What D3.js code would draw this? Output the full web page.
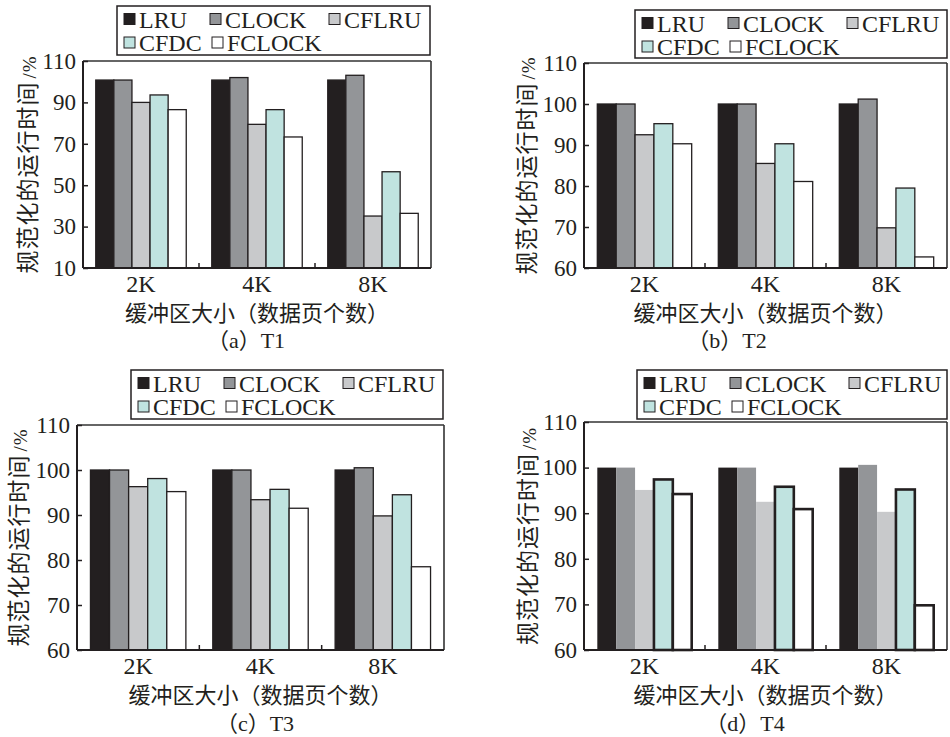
<!DOCTYPE html>
<html>
<head>
<meta charset="utf-8">
<script src="https://cdn.jsdelivr.net/npm/d3@7"></script>
<style>
  body { margin: 0; background: #fff; }
  text { fill: #231f20; }
</style>
</head>
<body>
<div id="chart"></div>
<script>
// du lieu
var groups = ["2K", "4K", "8K"];
var seriesNames = ["LRU", "CLOCK", "CFLRU", "CFDC", "FCLOCK"];
var seriesColors = ["#231f20", "#939598", "#c8c9cb", "#c0e3e0", "#ffffff"];

var ticksT1 = [10, 30, 50, 70, 90, 110];
var ticksOther = [60, 70, 80, 90, 100, 110];

// moi dong = mot series, moi cot = 2K, 4K, 8K
var valuesT1 = [
    [100.8, 100.8, 100.8],
    [100.8, 102.0, 103.1],
    [90.0, 79.4, 35.1],
    [93.6, 86.5, 56.5],
    [86.5, 73.3, 36.4]
];
var valuesT2 = [
    [100, 100, 100],
    [100, 100, 101.2],
    [92.5, 85.5, 69.8],
    [95.2, 90.3, 79.5],
    [90.3, 81.1, 62.7]
];
var valuesT3 = [
    [100, 100, 100],
    [100, 100, 100.5],
    [96.3, 93.4, 89.8],
    [98.1, 95.7, 94.5],
    [95.2, 91.5, 78.5]
];
var valuesT4 = [
    [100, 100, 100],
    [100, 100, 100.6],
    [95.1, 92.5, 90.3],
    [97.4, 95.8, 95.2],
    [94.2, 90.9, 69.8]
];

var yTitle = "规范化的运行时间";
var xTitle = "缓冲区大小（数据页个数）";

var serif = "'Liberation Serif', 'DejaVu Serif', serif";
var cjk = "'Noto Sans CJK SC', sans-serif";

var svg = d3.select("#chart")
    .append("svg")
    .attr("width", 950)
    .attr("height", 737);

function drawPanel(p) {
    var x0 = p.plot[0], x1 = p.plot[1], y0 = p.plot[2], y1 = p.plot[3];
    var g = svg.append("g");

    var y = d3.scaleLinear()
        .domain([p.ticks[0], p.ticks[p.ticks.length - 1]])
        .range([y1, y0]);

    var xGroup = d3.scaleBand()
        .domain(groups)
        .range([x0, x1])
        .paddingInner(0.22)
        .paddingOuter(0.11);

    var xSeries = d3.scaleBand()
        .domain(seriesNames)
        .range([0, xGroup.bandwidth()]);

    // ve cac cot
    var grp = g.selectAll(".grp")
        .data(groups)
        .enter()
        .append("g")
        .attr("transform", function (d) { return "translate(" + xGroup(d) + ",0)"; });

    grp.selectAll("rect")
        .data(function (d, gi) {
            return seriesNames.map(function (s, si) {
                return { s: s, si: si, v: p.values[si][gi] };
            });
        })
        .enter()
        .append("rect")
        .attr("x", function (d) { return xSeries(d.s); })
        .attr("width", xSeries.bandwidth())
        .attr("y", function (d) { return y(d.v); })
        .attr("height", function (d) { return y(p.ticks[0]) - y(d.v); })
        .attr("fill", function (d) { return seriesColors[d.si]; })
        .attr("stroke", function (d) {
            if (p.thick && d.si < 3) return "none";
            return "#231f20";
        })
        .attr("stroke-width", function (d) { return p.thick ? 2.6 : 1.3; });

    // khung
    g.append("line").attr("x1", x0).attr("x2", x1).attr("y1", y0).attr("y2", y0)
        .attr("stroke", "#333").attr("stroke-width", 1.6);
    g.append("line").attr("x1", x1).attr("x2", x1).attr("y1", y0).attr("y2", y1)
        .attr("stroke", "#333").attr("stroke-width", 1.6);
    g.append("line").attr("x1", x0).attr("x2", x1).attr("y1", y1).attr("y2", y1)
        .attr("stroke", "#231f20").attr("stroke-width", 2);
    g.append("line").attr("x1", x0).attr("x2", x0).attr("y1", y0).attr("y2", y1)
        .attr("stroke", "#231f20").attr("stroke-width", 2);

    // truc y
    var yAxis = g.append("g")
        .attr("transform", "translate(" + x0 + ",0)")
        .call(d3.axisLeft(y).tickValues(p.ticks).tickSize(-5).tickPadding(7));
    yAxis.select(".domain").remove();
    yAxis.selectAll(".tick line").attr("stroke", "#231f20").attr("stroke-width", 1.5);
    yAxis.selectAll(".tick text")
        .style("font-family", serif)
        .style("font-size", "23px")
        .attr("fill", "#231f20");

    // vach chia giua cac nhom
    g.selectAll(".sep")
        .data(groups.slice(1))
        .enter()
        .append("line")
        .attr("x1", function (d) { return xGroup(d) - xGroup.step() * 0.11; })
        .attr("x2", function (d) { return xGroup(d) - xGroup.step() * 0.11; })
        .attr("y1", y1)
        .attr("y2", y1 - 5)
        .attr("stroke", "#231f20")
        .attr("stroke-width", 1.5);

    // nhan truc x
    g.selectAll(".xl")
        .data(groups)
        .enter()
        .append("text")
        .attr("x", function (d) { return xGroup(d) + xGroup.bandwidth() / 2; })
        .attr("y", y1 + 24)
        .attr("text-anchor", "middle")
        .style("font-family", serif)
        .style("font-size", "24px")
        .text(function (d) { return d; });

    g.append("text")
        .attr("x", (x0 + x1) / 2)
        .attr("y", y1 + 52.5)
        .attr("text-anchor", "middle")
        .style("font-family", cjk)
        .style("font-size", "22px")
        .text(xTitle);

    // tieu de phu
    var cap = g.append("text")
        .attr("x", p.capX)
        .attr("y", y1 + p.capDy)
        .attr("text-anchor", "middle")
        .style("font-family", serif)
        .style("font-size", "22px");
    cap.append("tspan").style("font-family", cjk).text("（");
    cap.append("tspan").text(p.letter);
    cap.append("tspan").style("font-family", cjk).text("）");
    cap.append("tspan").text(p.name);

    // tieu de truc y
    var yt = g.append("text")
        .attr("transform", "translate(" + p.yTitleX + "," + (y0 + y1) / 2 + ") rotate(-90)")
        .attr("text-anchor", "middle")
        .attr("dy", "0.35em")
        .style("font-family", cjk)
        .style("font-size", "23px")
        .style("letter-spacing", "1px");
    yt.append("tspan").text(yTitle);
    yt.append("tspan").style("font-family", serif).style("font-size", "19px").attr("dx", 3).text("/%");

    // chu thich
    var lx = p.legend[0], lx2 = p.legend[1], ly = p.legend[2], ly2 = p.legend[3];
    g.append("rect")
        .attr("x", lx)
        .attr("y", ly)
        .attr("width", lx2 - lx)
        .attr("height", ly2 - ly)
        .attr("fill", "#fff")
        .attr("stroke", "#231f20")
        .attr("stroke-width", 1.5);

    var legendPos = [[7, 13], [93, 13], [212, 13], [7, 36.5], [95, 36.5]];
    var legend = g.selectAll(".legend")
        .data(seriesNames)
        .enter()
        .append("g")
        .attr("transform", function (d, i) {
            return "translate(" + (lx + legendPos[i][0]) + "," + (ly + legendPos[i][1]) + ")";
        });

    legend.append("rect")
        .attr("x", 0)
        .attr("y", -5.5)
        .attr("width", 11)
        .attr("height", 11)
        .attr("fill", function (d, i) { return seriesColors[i]; })
        .attr("stroke", "#231f20")
        .attr("stroke-width", 1);

    legend.append("text")
        .attr("x", 15)
        .attr("y", 8.5)
        .style("font-family", serif)
        .style("font-size", "24px")
        .text(function (d) { return d; });
}

drawPanel({ plot: [83, 431, 61, 268], ticks: ticksT1, values: valuesT1, legend: [117, 430, 6, 55],
    yTitleX: 28, capX: 246, capDy: 80, letter: "a", name: "T1" });
drawPanel({ plot: [584, 947, 63, 268], ticks: ticksOther, values: valuesT2, legend: [635, 947, 10, 58],
    yTitleX: 527, capX: 727, capDy: 80, letter: "b", name: "T2" });
drawPanel({ plot: [77, 444, 425, 650], ticks: ticksOther, values: valuesT3, legend: [131, 443, 370, 419],
    yTitleX: 19, capX: 255, capDy: 80.5, letter: "c", name: "T3" });
drawPanel({ plot: [584, 947, 422, 650], ticks: ticksOther, values: valuesT4, legend: [637, 947, 370, 419],
    yTitleX: 528, capX: 745, capDy: 81, letter: "d", name: "T4", thick: true });
</script>
</body>
</html>
